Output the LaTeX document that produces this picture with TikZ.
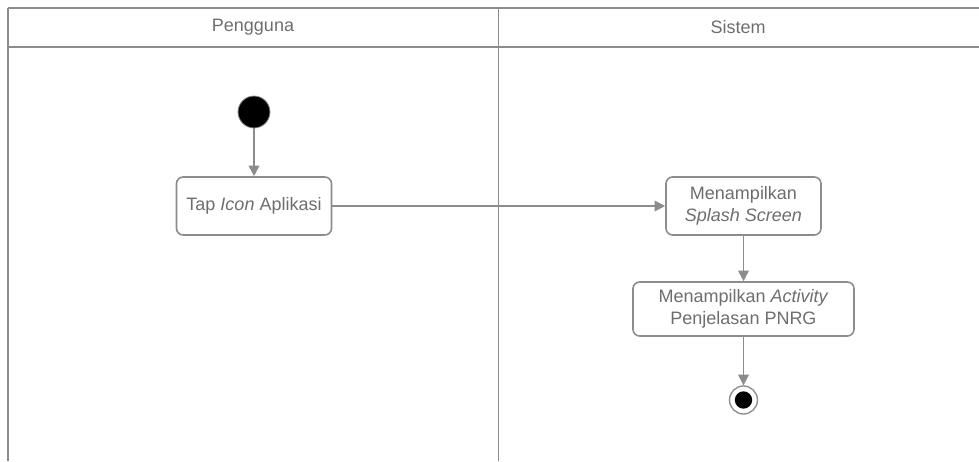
\documentclass[tikz,border=0pt]{standalone}
\usepackage{fontspec}
\setmainfont{Liberation Sans}
\usetikzlibrary{arrows.meta, positioning}
\definecolor{linegray}{RGB}{140, 140, 140}
\definecolor{textgray}{RGB}{110, 110, 110}

\begin{document}
\begin{tikzpicture}[
    x=0.75pt, y=-0.75pt,
    action/.style={draw=linegray, line width=1.2pt, rounded corners=5pt, minimum width=155*0.75pt, minimum height=58*0.75pt, align=center, font=\fontsize{13.5}{16}\selectfont, text=textgray, fill=white},
    lane/.style={draw=linegray, line width=0.8pt},
    flow/.style={-{Triangle[length=8pt, width=8pt]}, draw=linegray, line width=1.2pt, color=linegray},
    start/.style={circle, fill=black, draw=linegray, line width=0.6pt, minimum size=32*0.75pt, inner sep=0pt},
    finish/.style={circle, draw=linegray, line width=1pt, fill=white, minimum size=28*0.75pt, inner sep=0pt, path picture={\fill[black] (path picture bounding box.center) circle (6.5pt);}},
    lanetitle/.style={font=\fontsize{13.5}{16}\selectfont, text=textgray}
]
\useasboundingbox (0,0) rectangle (979,461);

% Swimlanes
\draw[lane] (8,8) -- (979,8);
\draw[lane] (8,47) -- (979,47);
\draw[lane, line width=0.6pt] (498,8) -- (498,461);
\draw[lane, line width=2pt] (8,8) -- (8,461);
\node[lanetitle] (pengguna) at (253,27.5) {Pengguna};
\node[lanetitle] (sistem) at (738,27.5) {Sistem};

% Nodes
\node[start] (init) at (254,112) {};
\node[action] (tap) at (254,206) {Tap \textit{Icon} Aplikasi};
\node[action] (splash) at (743.5,206) {Menampilkan\\\textit{Splash Screen}};
\node[action, minimum width=221*0.75pt, minimum height=54*0.75pt] (activity) at (743.5,309) {Menampilkan \textit{Activity}\\Penjelasan PNRG};
\node[finish] (akhir) at (743.5,400) {};

% Arrows
\draw[flow] (init) -- (tap);
\draw[flow] (tap) -- (splash);
\draw[flow] (splash) -- (activity);
\draw[flow] (activity) -- (akhir);

\end{tikzpicture}
\end{document}
